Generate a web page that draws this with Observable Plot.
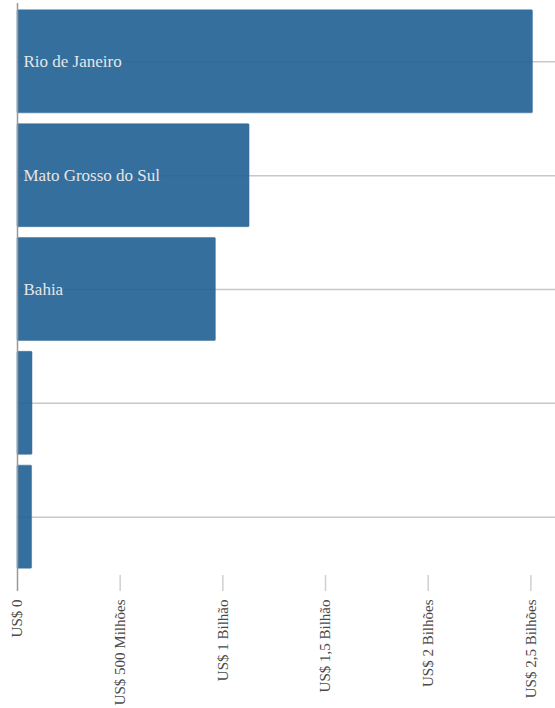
<!DOCTYPE html>
<html>
<head>
<meta charset="utf-8">
<script src="https://cdn.jsdelivr.net/npm/d3@7"></script>
<script src="https://cdn.jsdelivr.net/npm/@observablehq/plot@0.6"></script>
<style>
  html, body { margin: 0; padding: 0; background: #fff; }
  #chart svg { display: block; }
</style>
</head>
<body>
<div id="chart"></div>
<script>
// Data
const labels = ["Rio de Janeiro", "Mato Grosso do Sul", "Bahia", "", ""];
const values = [2.51e9, 1.13e9, 0.966e9, 0.073e9, 0.071e9];
const tickValues = [0, 0.5e9, 1e9, 1.5e9, 2e9, 2.5e9];
const tickLabels = ["US$ 0", "US$ 500 Milhões", "US$ 1 Bilhão", "US$ 1,5 Bilhão", "US$ 2 Bilhões", "US$ 2,5 Bilhões"];

const data = values.map((v, i) => ({ idx: i, label: labels[i], value: v }));
const fmt = v => tickLabels[tickValues.indexOf(v)];
const serif = "Liberation Serif, DejaVu Serif, serif";

const chart = Plot.plot({
  width: 555,
  height: 708,
  marginLeft: 17,
  marginRight: 0,
  marginTop: 3,
  marginBottom: 133,
  style: { fontFamily: serif, background: "#fff" },
  x: { domain: [0, 2.62e9], axis: null },
  y: { domain: data.map(d => d.idx), paddingInner: 0.095, paddingOuter: 0.06, round: false, axis: null },
  marks: [
    Plot.ruleY(data, { y: "idx", x1: 0, x2: 2.62e9, stroke: "#c8c8c8", strokeWidth: 1.5 }),
    Plot.barX(data, { y: "idx", x: "value", fill: "#1f5f94", fillOpacity: 0.9, stroke: "#3a6f9c", strokeOpacity: 0.5, rx: 1 }),
    Plot.ruleX([0], { stroke: "#999", strokeWidth: 1.5 }),
    Plot.axisX(tickValues.slice(1), {
      anchor: "bottom", tickSize: 16, tickPadding: 8, tickRotate: -90,
      tickFormat: fmt, stroke: "#d0d0d0", strokeWidth: 1.5, fill: "#4a4a4a", fontSize: 15, fontFamily: serif, label: null
    }),
    Plot.axisX([0], {
      anchor: "bottom", tickSize: 16, tickPadding: 8, tickRotate: -90,
      tickFormat: fmt, stroke: "#999", strokeWidth: 1.5, fill: "#4a4a4a", fontSize: 15, fontFamily: serif, label: null
    }),
    Plot.text(data, { y: "idx", x: 0, text: "label", dx: 6, textAnchor: "start", fill: "#e6e6e6", fontSize: 17, fontFamily: serif })
  ]
});
document.getElementById("chart").appendChild(chart);
</script>
</body>
</html>
